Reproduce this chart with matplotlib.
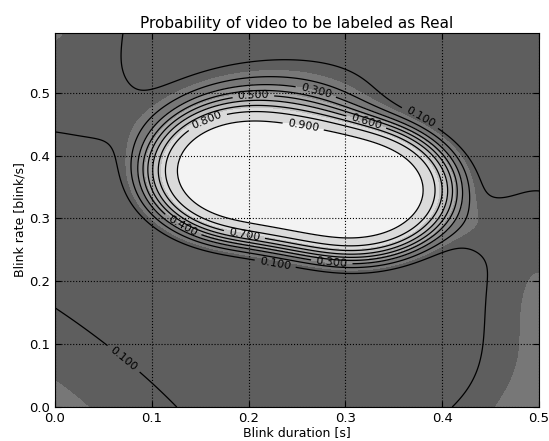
import numpy as np
import matplotlib
matplotlib.use('Agg')
import matplotlib.pyplot as plt

# axis ranges: blink duration [s] and blink rate [blink/s]
x_max = 0.5
y_max = 0.595

# odds of the "Real" label, built as a floor plus gaussian bumps.
# centres / spreads are in panel fractions (x / 0.5 s, y / 0.6 blink/s)
bump_cx = [0.394, 0.512, 0.620, 0.44, 0.52, -0.04, 0.12, 1.00, 1.00, 0.85, -0.10]
bump_cy = [0.625, 0.603, 0.575, 0.717, 0.883, 1.167, 0.767, 0.26, -0.15, 0.483, -0.10]
bump_su = [0.068, 0.068, 0.068, 0.10, 0.18, 0.16, 0.07, 0.10, 0.235, 0.07, 0.50]
bump_sv = [0.060, 0.060, 0.060, 0.0667, 0.075, 0.333, 0.075, 0.283, 0.14, 0.05, 0.26]
bump_angle = [0, 0, 0, 0, 0, 0, 0, 0, 0, 0, -45]
bump_height = [75.0, 75.0, 75.0, 2.5, 0.08, 0.19, 0.04, 0.165, 0.16, 0.08, 0.205]
odds_floor = 0.02

line_levels = [0.1, 0.2, 0.3, 0.4, 0.5, 0.6, 0.7, 0.8, 0.9]
fill_levels = [0.0, 0.15, 0.3, 0.45, 0.6, 0.75, 0.9, 1.05]

xs = np.linspace(0, x_max, 500)
ys = np.linspace(0, y_max, 500)
X, Y = np.meshgrid(xs, ys)
px = X / 0.5
py = Y / 0.6

odds = np.full_like(X, odds_floor)
for cx, cy, su, sv, ang, h in zip(bump_cx, bump_cy, bump_su, bump_sv,
                                  bump_angle, bump_height):
    t = np.deg2rad(ang)
    dx = px - cx
    dy = py - cy
    u = dx*np.cos(t) + dy*np.sin(t)
    v = -dx*np.sin(t) + dy*np.cos(t)
    odds += h*np.exp(-0.5*((u/su)**2 + (v/sv)**2))
prob = odds/(1.0 + odds)

# grey shades of the filled bands (gray map washed out towards white)
mids = [(a + b)/2 for a, b in zip(fill_levels[:-1], fill_levels[1:])]
fill_colors = [str(1 - 0.68*(1 - m/fill_levels[-1])) for m in mids]

fig = plt.figure(figsize=(5.49, 4.41), dpi=100)
ax = fig.add_axes([0.100, 0.077, 0.882, 0.848])

ax.contourf(X, Y, prob, levels=fill_levels, colors=fill_colors)
cs = ax.contour(X, Y, prob, levels=line_levels, colors='k', linewidths=0.9)

label_spots = [(0.07, 0.075), (0.227, 0.224), (0.286, 0.232), (0.196, 0.277),
               (0.131, 0.286), (0.377, 0.46), (0.27, 0.505), (0.205, 0.492),
               (0.322, 0.456), (0.156, 0.46), (0.256, 0.443)]
ax.clabel(cs, fmt='%.3f', fontsize=8, inline=True, manual=label_spots)

ax.set_xlim(0, x_max)
ax.set_ylim(0, y_max)
ax.set_xticks([0.0, 0.1, 0.2, 0.3, 0.4, 0.5])
ax.set_yticks([0.0, 0.1, 0.2, 0.3, 0.4, 0.5])
ax.grid(True, color='k', linestyle=':', linewidth=0.8)
ax.set_axisbelow(False)
ax.tick_params(direction='in', top=True, right=True, labelsize=9.5, length=4)

ax.set_title('Probability of video to be labeled as Real', fontsize=11, pad=4)
ax.set_xlabel('Blink duration [s]', fontsize=9, labelpad=1)
ax.set_ylabel('Blink rate [blink/s]', fontsize=9, labelpad=2)

fig.savefig('out.png', dpi=100)
